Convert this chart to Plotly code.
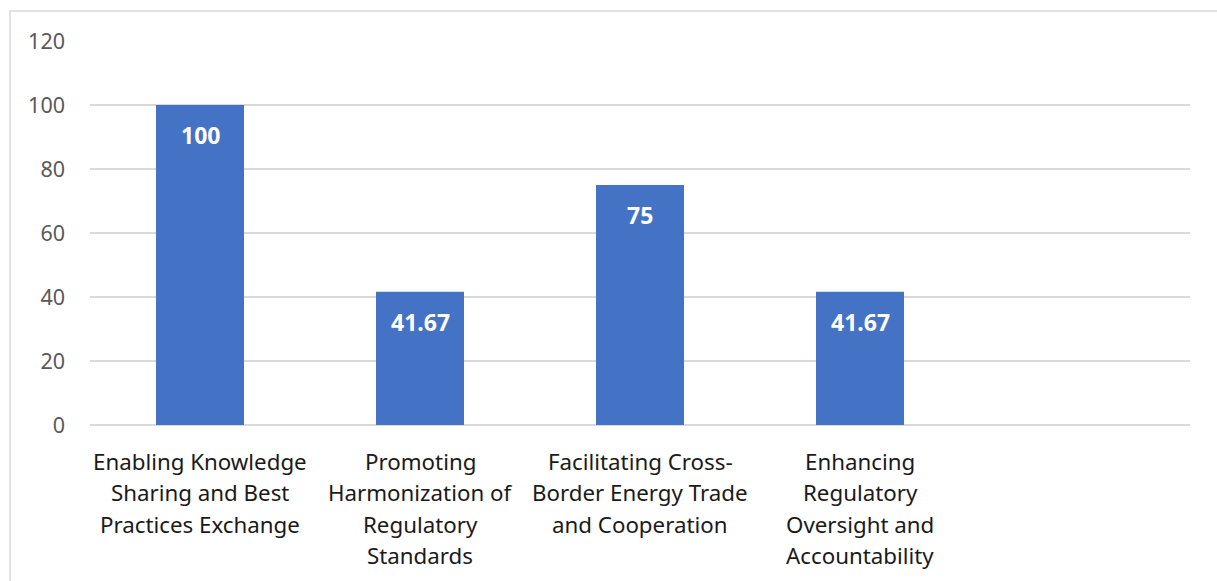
import plotly.graph_objects as go

categories = [
    "Enabling Knowledge<br>Sharing and Best<br>Practices Exchange",
    "Promoting<br>Harmonization of<br>Regulatory<br>Standards",
    "Facilitating Cross-<br>Border Energy Trade<br>and Cooperation",
    "Enhancing<br>Regulatory<br>Oversight and<br>Accountability",
]
values = [100, 41.67, 75, 41.67]
labels = ["100", "41.67", "75", "41.67"]
y_ticks = [0, 20, 40, 60, 80, 100, 120]

FONT = "Noto Sans, Open Sans, sans-serif"

fig = go.Figure()
fig.add_trace(go.Bar(
    x=categories, y=values, width=0.4,
    marker=dict(color="#4472C4", line=dict(width=0)),
    hoverinfo="skip",
))

for c, v, t in zip(categories, values, labels):
    fig.add_annotation(x=c, y=v, text="<b>%s</b>" % t, showarrow=False,
                       yanchor="middle", yshift=-30,
                       font=dict(family=FONT, size=23, color="white"))

# category labels, one line each, for Excel-like line spacing
for c in categories:
    for i, line in enumerate(c.split("<br>")):
        fig.add_annotation(x=c, xref="x", y=0, yref="paper", text=line,
                           showarrow=False, yanchor="middle",
                           yshift=-(36 + i * 31.5),
                           font=dict(family=FONT, size=22.3, color="#1A1A1A"))

fig.add_shape(type="rect", xref="paper", yref="paper",
              x0=-0.0727, x1=1.2, y0=-0.6, y1=1.078,
              line=dict(color="#D9D9D9", width=1.5), fillcolor="rgba(0,0,0,0)",
              layer="below")

fig.update_layout(
    width=1217, height=581,
    margin=dict(l=90, r=27, t=41, b=156),
    paper_bgcolor="white", plot_bgcolor="white",
    showlegend=False,
    font=dict(family=FONT),
    xaxis=dict(type="category", range=[-0.5, 4.5], showgrid=False,
               showline=False, ticks="", zeroline=False,
               showticklabels=False),
    yaxis=dict(range=[0, 120], tickvals=y_ticks, showgrid=True,
               gridcolor="#D9D9D9", gridwidth=1.5, zeroline=True,
               zerolinecolor="#D9D9D9", zerolinewidth=1.5,
               showline=False, ticks="",
               ticklabelstandoff=24,
               tickfont=dict(family=FONT, size=21.5, color="#595959")),
)

fig.write_html("out.html")
